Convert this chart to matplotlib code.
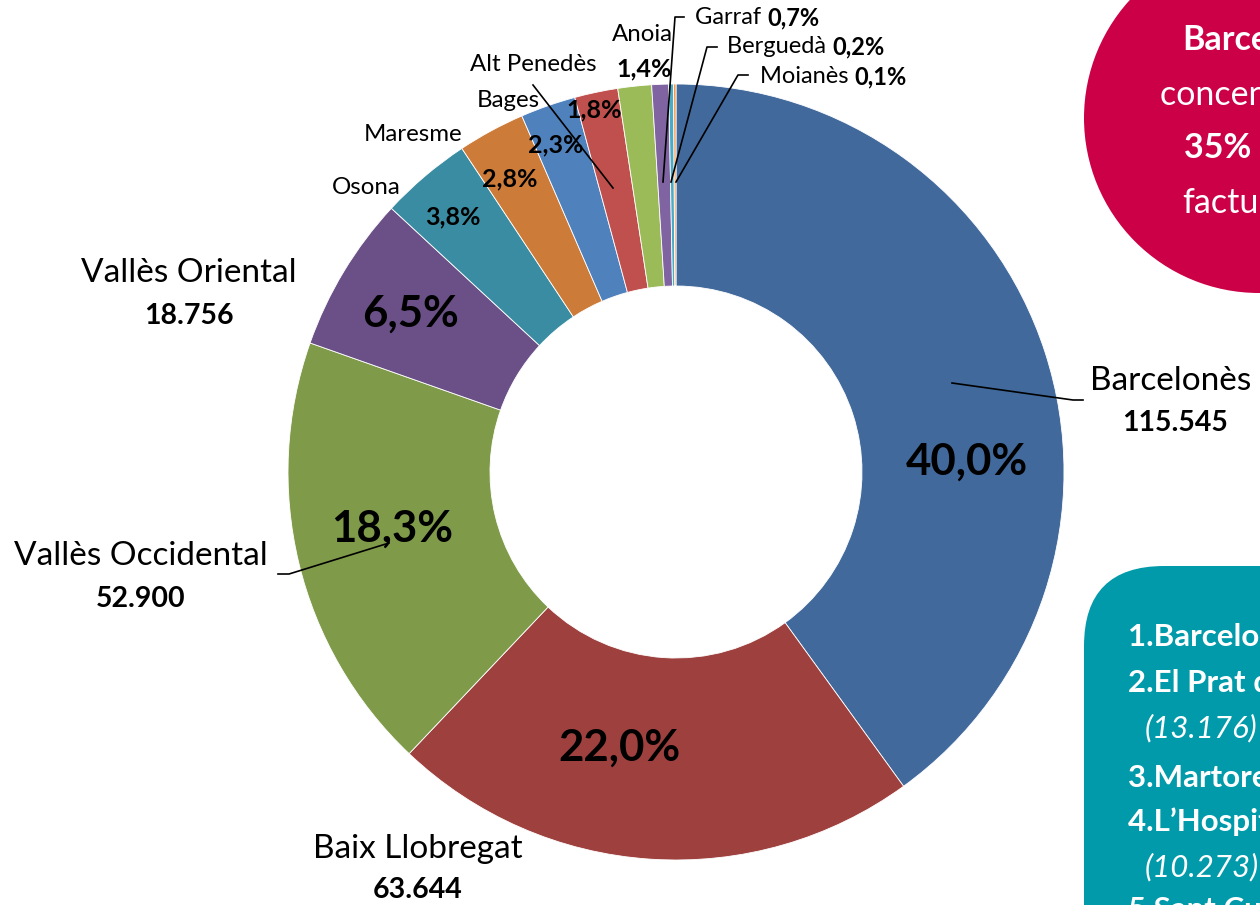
import matplotlib
matplotlib.use("Agg")
import matplotlib.pyplot as plt
from matplotlib.patches import Circle, FancyBboxPatch

plt.rcParams['font.family'] = ['Lato', 'DejaVu Sans']

# ---- data ----
comarques = ["Barcelonès", "Baix Llobregat", "Vallès Occidental", "Vallès Oriental",
             "Osona", "Maresme", "Bages", "Alt Penedès", "Anoia", "Garraf",
             "Berguedà", "Moianès"]
valors = [115545, 63644, 52900, 18756, 10980, 8090, 6640, 5200, 4040, 2020, 580, 290]
colors = ["#41699B", "#9D403E", "#7F9B4A", "#6A5087", "#3A8CA2", "#CC7B38",
          "#4F81BD", "#C0504D", "#9BBB59", "#8064A2", "#4BACC6", "#F79646"]

circle_lines = [("Barcelona", True), ("concentra el", False), ("35% de la", True),
                ("facturació", False)]
rank_lines = [("1.Barcelona", "bold"), ("2.El Prat de Llobregat", "bold"),
              ("(13.176)", "italic"), ("3.Martorell", "bold"),
              ("4.L’Hospitalet de Llobregat", "bold"), ("(10.273)", "italic"),
              ("5.Sant Cugat del Vallès", "bold")]

total = sum(valors)
pcts = [v / total * 100 for v in valors]


def fmt_pct(p):
    return f"{p:.1f}%".replace('.', ',')


def fmt_num(v):
    return f"{v:,}".replace(',', '.')


W, H = 1260, 905
fig = plt.figure(figsize=(W / 100, H / 100), dpi=100)
ax = fig.add_axes([0, 0, 1, 1])


def Y(y):
    return H - y


CX, CY, R, RIN = 676, 472, 388, 186
ax.pie(valors, colors=colors, startangle=90, counterclock=False,
       center=(CX, Y(CY)), radius=R,
       wedgeprops=dict(width=R - RIN, edgecolor='white', linewidth=0.6))
ax.set_xlim(0, W)
ax.set_ylim(0, H)
ax.set_aspect('equal')
ax.axis('off')

# ---- percentage labels inside ----
big = dict(fontsize=31.5, fontweight='bold', ha='center', va='center', color='black')
small = dict(fontsize=18, fontweight='bold', ha='center', va='center', color='black')
pct_pos = [(967, 462), (619, 748), (392, 529), (410, 314),
           (453, 217), (510, 179), (556, 145), (594, 110)]
for i, (x, y) in enumerate(pct_pos):
    ax.text(x, Y(y), fmt_pct(pcts[i]), **(big if i < 4 else small))

# ---- big category labels ----
name_kw = dict(fontsize=24, ha='center', va='center', color='black')
num_kw = dict(fontsize=20.5, fontweight='bold', ha='center', va='center', color='black')
ax.text(1090, Y(381), comarques[0], fontsize=24, ha='left', va='center')
ax.text(1175, Y(423), fmt_num(valors[0]), **num_kw)
ax.text(418, Y(849), comarques[1], **name_kw)
ax.text(418, Y(890), fmt_num(valors[1]), **num_kw)
ax.text(141, Y(556), comarques[2], **name_kw)
ax.text(141, Y(599), fmt_num(valors[2]), **num_kw)
ax.text(189, Y(273), comarques[3], **name_kw)
ax.text(189, Y(316), fmt_num(valors[3]), **num_kw)

# ---- small category labels ----
sm_kw = dict(fontsize=17.3, ha='center', va='center', color='black')
ax.text(366, Y(187), comarques[4], **sm_kw)
ax.text(413, Y(135), comarques[5], **sm_kw)
ax.text(508, Y(101), comarques[6], **sm_kw)
ax.text(533, Y(65), comarques[7], **sm_kw)
ax.text(642, Y(35), comarques[8], **sm_kw)
ax.text(644, Y(69), fmt_pct(pcts[8]), **small)

# ---- leader lines ----
lk = dict(color='black', linewidth=1.2)
ax.plot([952, 1073, 1083], [Y(383), Y(400), Y(400)], **lk)
ax.plot([278, 289, 389], [Y(574), Y(574), Y(543)], **lk)
ax.plot([533, 613], [Y(85), Y(188)], **lk)
ax.plot([663, 675, 684], [Y(182), Y(17), Y(17)], **lk)
ax.plot([671, 707, 717], [Y(182), Y(47), Y(47)], **lk)
ax.plot([676, 738, 748], [Y(182), Y(75), Y(75)], **lk)

# tiny labels: name regular + pct bold
fig.canvas.draw()
renderer = fig.canvas.get_renderer()
for i, (x, y) in zip([9, 10, 11], [(695, 18), (727, 47), (760, 77)]):
    t = ax.text(x, Y(y), comarques[i] + " ", fontsize=17, ha='left', va='center')
    bb = t.get_window_extent(renderer=renderer)
    x2 = ax.transData.inverted().transform((bb.x1, bb.y0))[0]
    ax.text(x2, Y(y), fmt_pct(pcts[i]), fontsize=17, fontweight='bold',
            ha='left', va='center')

# ---- crimson circle (partially visible) ----
ax.add_patch(Circle((1259, Y(118)), 175, facecolor='#CC0046', edgecolor='none'))
for (txt, b), (x, y) in zip(circle_lines, [(1182, 40), (1160, 95), (1184, 148), (1182, 203)]):
    ax.text(x, Y(y), txt, fontsize=24.5, fontweight='bold' if b else 'normal',
            color='white', ha='left', va='center')

# ---- teal box (partially visible) ----
ax.add_patch(FancyBboxPatch((1084, Y(1000)), 400, 1000 - 566,
                            boxstyle="round,pad=0,rounding_size=80",
                            facecolor='#009AAA', edgecolor='none'))
for (txt, st), (x, y) in zip(rank_lines, [(1128, 637), (1128, 683), (1145, 728),
                                          (1128, 778), (1128, 822), (1145, 867),
                                          (1128, 910)]):
    ax.text(x, Y(y), txt, fontsize=22.5,
            fontweight='bold' if st == 'bold' else 'normal',
            fontstyle='italic' if st == 'italic' else 'normal',
            color='white', ha='left', va='center')

fig.savefig("out.png", dpi=100)
